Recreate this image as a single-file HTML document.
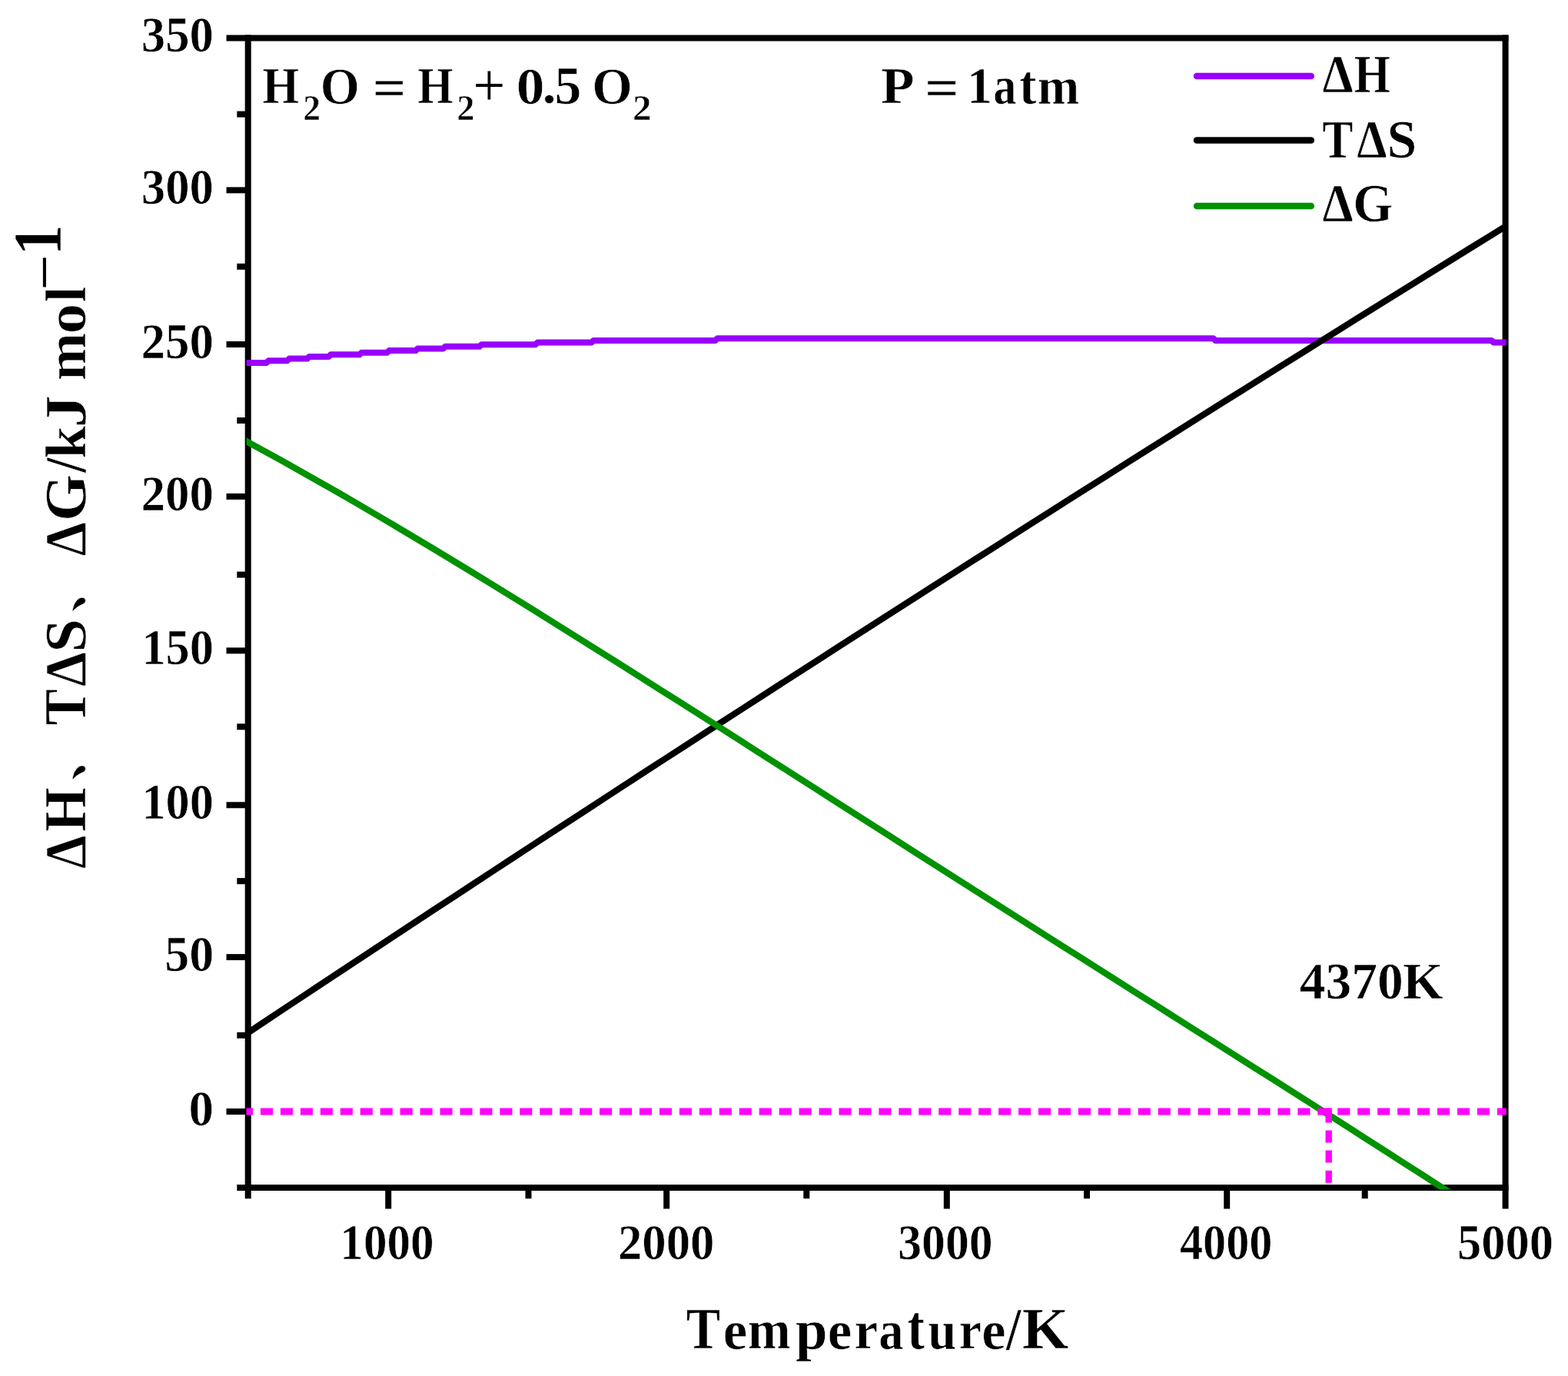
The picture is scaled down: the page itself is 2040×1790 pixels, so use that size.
<!DOCTYPE html>
<html lang="en"><head><meta charset="utf-8"><title>Thermodynamics of water splitting</title>
<style>html,body{margin:0;padding:0;background:#fff;}body{width:2040px;height:1790px;overflow:hidden;}svg{display:block;}text{font-family:"Liberation Serif", "Noto Serif CJK SC", serif;font-weight:bold;fill:#000;font-kerning:none;white-space:pre;stroke:#fff;stroke-width:0.6px;stroke-linejoin:round;}</style></head><body>
<svg width="2040" height="1790" viewBox="0 0 2040 1790">
<defs><clipPath id="plot"><rect x="320.5" y="40" width="1639.1" height="1507.6"/></clipPath></defs>
<rect x="0" y="0" width="2040" height="1790" fill="#fff"/>
<g>
<g id="axes" stroke="#000" stroke-width="8" fill="none" stroke-linecap="butt">
<line x1="294.5" y1="49.5" x2="1962.5" y2="49.5"/>
<line x1="322.7" y1="45.5" x2="322.7" y2="1559.2"/>
<line x1="1958.6" y1="45.5" x2="1958.6" y2="1572.5"/>
<line x1="308.3" y1="1545" x2="1962.5" y2="1545"/>
<line x1="294.5" y1="1446" x2="322.7" y2="1446"/>
<line x1="294.5" y1="1245.1" x2="322.7" y2="1245.1"/>
<line x1="294.5" y1="1047.3" x2="322.7" y2="1047.3"/>
<line x1="294.5" y1="846.4" x2="322.7" y2="846.4"/>
<line x1="294.5" y1="645.9" x2="322.7" y2="645.9"/>
<line x1="294.5" y1="448" x2="322.7" y2="448"/>
<line x1="294.5" y1="247.4" x2="322.7" y2="247.4"/>
<line x1="308.3" y1="1346.8" x2="322.7" y2="1346.8"/>
<line x1="308.3" y1="1146.2" x2="322.7" y2="1146.2"/>
<line x1="308.3" y1="945.4" x2="322.7" y2="945.4"/>
<line x1="308.3" y1="747.6" x2="322.7" y2="747.6"/>
<line x1="308.3" y1="547" x2="322.7" y2="547"/>
<line x1="308.3" y1="346.8" x2="322.7" y2="346.8"/>
<line x1="308.3" y1="148.6" x2="322.7" y2="148.6"/>
<line x1="505.2" y1="1545" x2="505.2" y2="1572.5"/>
<line x1="867.2" y1="1545" x2="867.2" y2="1572.5"/>
<line x1="1231.8" y1="1545" x2="1231.8" y2="1572.5"/>
<line x1="1596.2" y1="1545" x2="1596.2" y2="1572.5"/>
<line x1="687.5" y1="1545" x2="687.5" y2="1559.2"/>
<line x1="1049.3" y1="1545" x2="1049.3" y2="1559.2"/>
<line x1="1414" y1="1545" x2="1414" y2="1559.2"/>
<line x1="1775.7" y1="1545" x2="1775.7" y2="1559.2"/>
</g>
<g id="data" clip-path="url(#plot)" fill="none">
<polyline points="318,471.88 346.7,471.88 349.3,469.25 373.7,469.25 376.3,466.62 399.7,466.62 402.3,463.99 427.7,463.99 430.3,461.36 467.7,461.36 470.3,458.72 503.7,458.72 506.3,456.09 540.7,456.09 543.3,453.46 576.7,453.46 579.3,450.83 623.7,450.83 626.3,448.2 696.7,448.2 699.3,445.56 769.7,445.56 772.3,442.93 930.7,442.93 933.3,440.3 1578.7,440.3 1581.3,442.93 1940.5,442.93 1943.1,445.56 1960.7,445.56" stroke="#9900ff" stroke-width="8" stroke-linejoin="round"/>
<polyline points="316,1347.86 341,1331.25 366,1314.66 391,1298.09 416,1281.54 441,1265 466,1248.49 491,1231.99 516,1215.5 541,1199.04 566,1182.59 591,1166.16 616,1149.75 641,1133.36 666,1116.98 691,1100.63 716,1084.29 741,1067.96 766,1051.66 791,1035.37 816,1019.11 841,1002.85 866,986.62 891,970.41 916,954.21 941,938.03 966,921.87 991,905.72 1016,889.6 1041,873.49 1066,857.4 1091,841.32 1116,825.27 1141,809.23 1166,793.21 1191,777.21 1216,761.22 1241,745.26 1266,729.31 1291,713.38 1316,697.46 1341,681.57 1366,665.69 1391,649.83 1416,633.99 1441,618.17 1466,602.36 1491,586.57 1516,570.8 1541,555.05 1566,539.31 1591,523.59 1616,507.89 1641,492.21 1666,476.55 1691,460.9 1716,445.27 1741,429.66 1766,414.07 1791,398.49 1816,382.94 1841,367.4 1866,351.87 1891,336.37 1916,320.88 1941,305.41 1966,289.96" stroke="#000" stroke-width="8.3" stroke-linejoin="round"/>
<polyline points="316,571.58 340.75,585.04 365.5,598.7 390.25,612.53 415,626.54 439.75,640.71 464.5,655.03 489.25,669.49 514,684.09 538.75,698.82 563.5,713.66 588.25,728.61 613,743.66 637.75,758.8 662.5,774.03 687.25,789.33 712,804.71 736.75,820.15 761.5,835.66 786.25,851.21 811,866.81 835.75,882.46 860.5,898.14 885.25,913.85 910,929.58 934.75,945.34 959.5,961.12 984.25,976.91 1009,992.72 1033.75,1008.53 1058.5,1024.34 1083.25,1040.15 1108,1055.97 1132.75,1071.78 1157.5,1087.58 1182.25,1103.38 1207,1119.17 1231.75,1134.95 1256.5,1150.72 1281.25,1166.48 1306,1182.22 1330.75,1197.96 1355.5,1213.68 1380.25,1229.39 1405,1245.09 1429.75,1260.78 1454.5,1276.46 1479.25,1292.14 1504,1307.81 1528.75,1323.48 1553.5,1339.15 1578.25,1354.82 1603,1370.49 1627.75,1386.17 1652.5,1401.87 1677.25,1417.58 1702,1433.31 1726.75,1449.06 1751.5,1464.84 1776.25,1480.65 1801,1496.5 1825.75,1512.4 1850.5,1528.34 1875.25,1544.33 1900,1560.39" stroke="#009200" stroke-width="8.3" stroke-linejoin="round"/>
<g stroke="#ff00ff">
<line x1="313" y1="1446" x2="1962" y2="1446" stroke-width="8.8" stroke-dasharray="16.1 9.85"/>
<line x1="1728.7" y1="1441.6" x2="1728.7" y2="1545" stroke-width="8.4" stroke-dasharray="18.8 10.1 16 10.1 16 10.1 16 10.1"/>
</g>
</g>
<g id="legend-lines" stroke-width="8.5" stroke-linecap="round" fill="none">
<line x1="1557" y1="98.9" x2="1705.8" y2="98.9" stroke="#9900ff"/>
<line x1="1557" y1="182.6" x2="1705.8" y2="182.6" stroke="#000"/>
<line x1="1557" y1="268" x2="1705.8" y2="268" stroke="#009200"/>
</g>
<text><tspan x="245.63" y="1463.75" font-size="64.63" textLength="32.5" lengthAdjust="spacingAndGlyphs">0</tspan></text>
<text><tspan x="214.13" y="1262.85" font-size="64.63" textLength="64.02" lengthAdjust="spacingAndGlyphs">50</tspan></text>
<text><tspan x="184.4" y="1065.05" font-size="64.63" textLength="93.5" lengthAdjust="spacingAndGlyphs">100</tspan></text>
<text><tspan x="184.4" y="864.15" font-size="64.63" textLength="93.5" lengthAdjust="spacingAndGlyphs">150</tspan></text>
<text><tspan x="183.58" y="663.65" font-size="64.63" textLength="94.34" lengthAdjust="spacingAndGlyphs">200</tspan></text>
<text><tspan x="183.58" y="465.75" font-size="64.63" textLength="94.34" lengthAdjust="spacingAndGlyphs">250</tspan></text>
<text><tspan x="183.83" y="265.15" font-size="64.63" textLength="94.08" lengthAdjust="spacingAndGlyphs">300</tspan></text>
<text><tspan x="183.83" y="67.25" font-size="64.63" textLength="94.08" lengthAdjust="spacingAndGlyphs">350</tspan></text>
<text><tspan x="442.35" y="1637.75" font-size="65.37" textLength="122.31" lengthAdjust="spacingAndGlyphs">1000</tspan></text>
<text><tspan x="803.92" y="1637.75" font-size="65.37" textLength="125.62" lengthAdjust="spacingAndGlyphs">2000</tspan></text>
<text><tspan x="1168.31" y="1637.75" font-size="65.37" textLength="123.28" lengthAdjust="spacingAndGlyphs">3000</tspan></text>
<text><tspan x="1534.95" y="1637.75" font-size="65.37" textLength="120.38" lengthAdjust="spacingAndGlyphs">4000</tspan></text>
<text><tspan x="1896.03" y="1637.75" font-size="65.37" textLength="124.99" lengthAdjust="spacingAndGlyphs">5000</tspan></text>
<text id="xtitle"><tspan x="892.79" y="1754.35" font-size="76" textLength="44.37" lengthAdjust="spacingAndGlyphs">T</tspan><tspan x="940.81" y="1754.95" font-size="72.29" textLength="31.44" lengthAdjust="spacingAndGlyphs">e</tspan><tspan x="972.99" y="1754.35" font-size="71.08" textLength="55.48" lengthAdjust="spacingAndGlyphs">m</tspan><tspan x="1034.92" y="1755.35" font-size="73.02" textLength="41.62" lengthAdjust="spacingAndGlyphs">p</tspan><tspan x="1076.71" y="1754.95" font-size="72.29" textLength="31.44" lengthAdjust="spacingAndGlyphs">e</tspan><tspan x="1111.5" y="1754.35" font-size="70.59" textLength="30.7" lengthAdjust="spacingAndGlyphs">r</tspan><tspan x="1143.26" y="1754.95" font-size="71.77" textLength="32.19" lengthAdjust="spacingAndGlyphs">a</tspan><tspan x="1180.49" y="1754.7" font-size="83.27" textLength="22.4" lengthAdjust="spacingAndGlyphs">t</tspan><tspan x="1207.21" y="1754.7" font-size="71.79" textLength="36.9" lengthAdjust="spacingAndGlyphs">u</tspan><tspan x="1247.71" y="1754.35" font-size="70.59" textLength="29.09" lengthAdjust="spacingAndGlyphs">r</tspan><tspan x="1277.32" y="1754.95" font-size="72.29" textLength="31.32" lengthAdjust="spacingAndGlyphs">e</tspan><tspan x="1309.03" y="1754.7" font-size="77.33" textLength="19.34" lengthAdjust="spacingAndGlyphs">/</tspan><tspan x="1329.86" y="1754.35" font-size="76" textLength="60.73" lengthAdjust="spacingAndGlyphs">K</tspan></text>
<text id="ytitle" transform="rotate(-90)"><tspan x="-1129.93" y="111.25" font-size="76.2" textLength="43.31" lengthAdjust="spacingAndGlyphs">Δ</tspan><tspan x="-1081.94" y="111.25" font-size="77.41" textLength="57.64" lengthAdjust="spacingAndGlyphs">H</tspan><tspan x="-1016.22" y="105.9" font-size="67.09" textLength="66.32" lengthAdjust="spacingAndGlyphs">、</tspan><tspan x="-943.58" y="111.25" font-size="77.41" textLength="47.45" lengthAdjust="spacingAndGlyphs">T</tspan><tspan x="-893.07" y="111.25" font-size="76.2" textLength="44.69" lengthAdjust="spacingAndGlyphs">Δ</tspan><tspan x="-848.88" y="111.1" font-size="77.03" textLength="43.65" lengthAdjust="spacingAndGlyphs">S</tspan><tspan x="-797.42" y="105.9" font-size="67.09" textLength="66.32" lengthAdjust="spacingAndGlyphs">、</tspan> <tspan x="-723.35" y="111.25" font-size="76.2" textLength="43.95" lengthAdjust="spacingAndGlyphs">Δ</tspan><tspan x="-677.97" y="111.1" font-size="77.03" textLength="61.04" lengthAdjust="spacingAndGlyphs">G</tspan><tspan x="-614.67" y="111.1" font-size="76.72" textLength="19.18" lengthAdjust="spacingAndGlyphs">/</tspan><tspan x="-596.58" y="111.25" font-size="72.96" textLength="42.12" lengthAdjust="spacingAndGlyphs">k</tspan><tspan x="-556.33" y="111.1" font-size="77.02" textLength="42.39" lengthAdjust="spacingAndGlyphs">J</tspan> <tspan x="-495.05" y="111.25" font-size="74.48" textLength="61.99" lengthAdjust="spacingAndGlyphs">m</tspan><tspan x="-434.29" y="111.1" font-size="73.91" textLength="39.3" lengthAdjust="spacingAndGlyphs">o</tspan><tspan x="-393.38" y="111.25" font-size="72.96" textLength="20.63" lengthAdjust="spacingAndGlyphs">l</tspan><tspan x="-377.54" y="84.6" font-size="82" textLength="46.19" lengthAdjust="spacingAndGlyphs" style="font-weight:normal;stroke:none">−</tspan><tspan x="-332.56" y="77.65" font-size="88.21" textLength="40.52" lengthAdjust="spacingAndGlyphs">1</tspan></text>
<text id="formula"><tspan x="341.56" y="134.1" font-size="68.51" textLength="47.62" lengthAdjust="spacingAndGlyphs">H</tspan><tspan x="394.3" y="155.65" font-size="46.57" textLength="22.73" lengthAdjust="spacingAndGlyphs">2</tspan><tspan x="416.81" y="134.75" font-size="68.64" textLength="51.07" lengthAdjust="spacingAndGlyphs">O</tspan> <tspan x="484.64" y="138.1" font-size="69.65" textLength="44" lengthAdjust="spacingAndGlyphs">=</tspan> <tspan x="543.2" y="134.1" font-size="68.51" textLength="46.35" lengthAdjust="spacingAndGlyphs">H</tspan><tspan x="594.26" y="155.65" font-size="46.57" textLength="23.22" lengthAdjust="spacingAndGlyphs">2</tspan><tspan x="615.52" y="136.65" font-size="78.23" textLength="41.75" lengthAdjust="spacingAndGlyphs" style="font-weight:normal;stroke:none">+</tspan> <tspan x="671.67" y="134.75" font-size="68.26" textLength="36.73" lengthAdjust="spacingAndGlyphs">0</tspan><tspan x="705.53" y="134.1" font-size="68.51" textLength="18.27" lengthAdjust="spacingAndGlyphs">.</tspan><tspan x="721.48" y="134.75" font-size="69.41" textLength="34.89" lengthAdjust="spacingAndGlyphs">5</tspan> <tspan x="770.21" y="134.75" font-size="68.64" textLength="52.58" lengthAdjust="spacingAndGlyphs">O</tspan><tspan x="823.12" y="155.65" font-size="46.57" textLength="24.59" lengthAdjust="spacingAndGlyphs">2</tspan></text>
<text id="pressure"><tspan x="1146.04" y="134.1" font-size="68.51" textLength="43.61" lengthAdjust="spacingAndGlyphs">P</tspan> <tspan x="1202.98" y="138.1" font-size="69.65" textLength="44.63" lengthAdjust="spacingAndGlyphs">=</tspan> <tspan x="1257.95" y="134.1" font-size="68.51" textLength="33.08" lengthAdjust="spacingAndGlyphs">1</tspan><tspan x="1292.21" y="135.45" font-size="68.86" textLength="30.14" lengthAdjust="spacingAndGlyphs">a</tspan><tspan x="1326.01" y="135.2" font-size="72.51" textLength="22.39" lengthAdjust="spacingAndGlyphs">t</tspan><tspan x="1349.95" y="135.25" font-size="68.13" textLength="54.18" lengthAdjust="spacingAndGlyphs">m</tspan></text>
<text id="crossing"><tspan x="1690.85" y="1298.85" font-size="67.53" textLength="134.75" lengthAdjust="spacingAndGlyphs">4370</tspan><tspan x="1825.1" y="1298.7" font-size="67.41" textLength="52.54" lengthAdjust="spacingAndGlyphs">K</tspan></text>
<text id="leg1"><tspan x="1720.45" y="119.6" font-size="69.21" textLength="40.04" lengthAdjust="spacingAndGlyphs">Δ</tspan><tspan x="1761.79" y="119.6" font-size="69.21" textLength="47.19" lengthAdjust="spacingAndGlyphs">H</tspan></text>
<text id="leg2"><tspan x="1720.3" y="205.1" font-size="69.21" textLength="40.13" lengthAdjust="spacingAndGlyphs">T</tspan><tspan x="1765.17" y="205.1" font-size="69.21" textLength="39.19" lengthAdjust="spacingAndGlyphs">Δ</tspan><tspan x="1804.58" y="205.1" font-size="69.21" textLength="38.68" lengthAdjust="spacingAndGlyphs">S</tspan></text>
<text id="leg3"><tspan x="1720.45" y="288.3" font-size="69.21" textLength="40.04" lengthAdjust="spacingAndGlyphs">Δ</tspan><tspan x="1760.28" y="288.3" font-size="69.21" textLength="51.93" lengthAdjust="spacingAndGlyphs">G</tspan></text>
</g>
</svg></body></html>
